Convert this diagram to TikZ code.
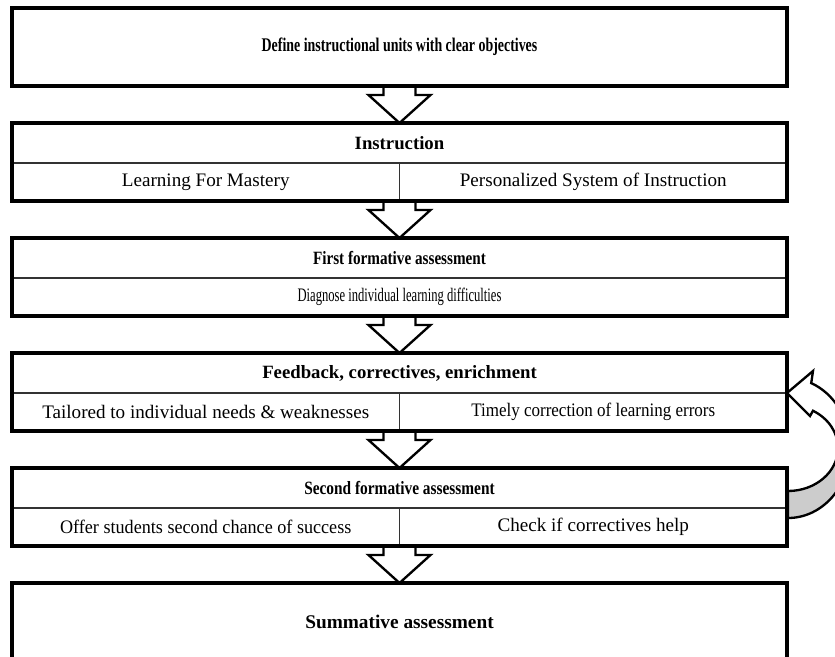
\documentclass[tikz,border=0pt]{standalone}
\usepackage{fontspec}
\setmainfont{Liberation Serif}
\newcommand\narrowby[1]{\addfontfeatures{FakeStretch=#1}}
\usetikzlibrary{positioning,calc}
\tikzset{
  row/.style={inner sep=0pt,outer sep=0pt,minimum width=23.25cm},
  headrow/.style={row,minimum height=1.2cm,font=\fontsize{16}{18}\selectfont\bfseries\narrowby{#1}},
  headrow/.default=1,
  subrow/.style={row,minimum height=1.14cm,font=\fontsize{16.3}{18}\selectfont\narrowby{#1}},
  subrow/.default=1,
  halfrow/.style={subrow=#1,minimum width=11.625cm},
  halfrow/.default=1,
  bigbox/.style={row,minimum height=2.34cm,font=\fontsize{16.5}{19}\selectfont\bfseries\narrowby{#1}},
  bigbox/.default=1,
  frame/.style={line width=2.8pt},
  divider/.style={line width=1.6pt,black!80},
  flow/.style={draw,fill=white,line width=2pt,line join=miter},
  loop/.style={draw=black,line width=2pt,line join=miter},
}
\newcommand\flowarrow[2]{%
  \draw[flow] ($(#1)+(-0.48,0)$) -- ++(0,-0.27) -- ++(-0.45,0) -- (#2)
    -- ($(#1)+(0.93,-0.27)$) -- ++(-0.45,0) -- ++(0,0.27);}
\begin{document}
\begin{tikzpicture}
    \clip (0,0) rectangle (25.05,-19.68);
    %% boxes
    \node[bigbox=0.72] (define) at (11.985,-1.41) {Define instructional units with clear objectives};
    \node[headrow,below=1.11cm of define] (instr) {Instruction};
    \node[halfrow,anchor=north west] (lfm) at (instr.south west) {Learning For Mastery};
    \node[halfrow,anchor=north east] (psi) at (instr.south east) {Personalized System of Instruction};
    \node[headrow=0.81,below=1.11cm of lfm.south east] (first) {First formative assessment};
    \node[subrow=0.66,below=0pt of first] (diagnose) {Diagnose individual learning difficulties};
    \node[headrow,below=1.11cm of diagnose] (feedback) {Feedback, correctives, enrichment};
    \node[halfrow,anchor=north west] (tailored) at (feedback.south west) {Tailored to individual needs \& weaknesses};
    \node[halfrow=0.89,anchor=north east] (timely) at (feedback.south east) {Timely correction of learning errors};
    \node[headrow=0.82,below=1.11cm of tailored.south east] (second) {Second formative assessment};
    \node[halfrow=0.95,anchor=north west] (offer) at (second.south west) {Offer students second chance of success};
    \node[halfrow,anchor=north east] (check) at (second.south east) {Check if correctives help};
    \node[bigbox,below=1.11cm of offer.south east] (summative) {Summative assessment};
    %% arrows
    \flowarrow{define.south}{instr.north}
    \flowarrow{lfm.south east}{first.north}
    \flowarrow{diagnose.south}{feedback.north}
    \flowarrow{tailored.south east}{second.north}
    \flowarrow{offer.south east}{summative.north}
    %% loop back
    \coordinate (loopc) at ($(feedback.south east)+(0.03,-1.65)$);
    \filldraw[loop,fill=black!20] ($(loopc)+(0,-2.1)$) arc[start angle=-90,end angle=0,x radius=1.86,y radius=2.1]
        -- ($(loopc)+(1.5,0)$) arc[start angle=0,end angle=-90,x radius=1.5,y radius=1.29] -- cycle;
    \filldraw[loop,fill=white] (feedback.south east) -- ++(0.78,0.66)
        -- ($(loopc)+({1.86*cos(68)},{2.1*sin(68)})$) arc[start angle=68,end angle=0,x radius=1.86,y radius=2.1]
        -- ($(loopc)+(1.5,0)$) arc[start angle=0,end angle=60,x radius=1.5,y radius=1.29]
        -- ($(feedback.south east)+(0.69,-0.69)$) -- cycle;
    %% dividers
    \draw[divider] (instr.south west) -- (instr.south east) (lfm.north east) -- (lfm.south east);
    \draw[divider] (first.south west) -- (first.south east);
    \draw[divider] (feedback.south west) -- (feedback.south east) (tailored.north east) -- (tailored.south east);
    \draw[divider] (second.south west) -- (second.south east) (offer.north east) -- (offer.south east);
    %% frames
    \draw[frame] (define.north west) rectangle (define.south east);
    \draw[frame] (instr.north west) rectangle (psi.south east);
    \draw[frame] (first.north west) rectangle (diagnose.south east);
    \draw[frame] (feedback.north west) rectangle (timely.south east);
    \draw[frame] (second.north west) rectangle (check.south east);
    \draw[frame] (summative.north west) rectangle (summative.south east);
\end{tikzpicture}
\end{document}
